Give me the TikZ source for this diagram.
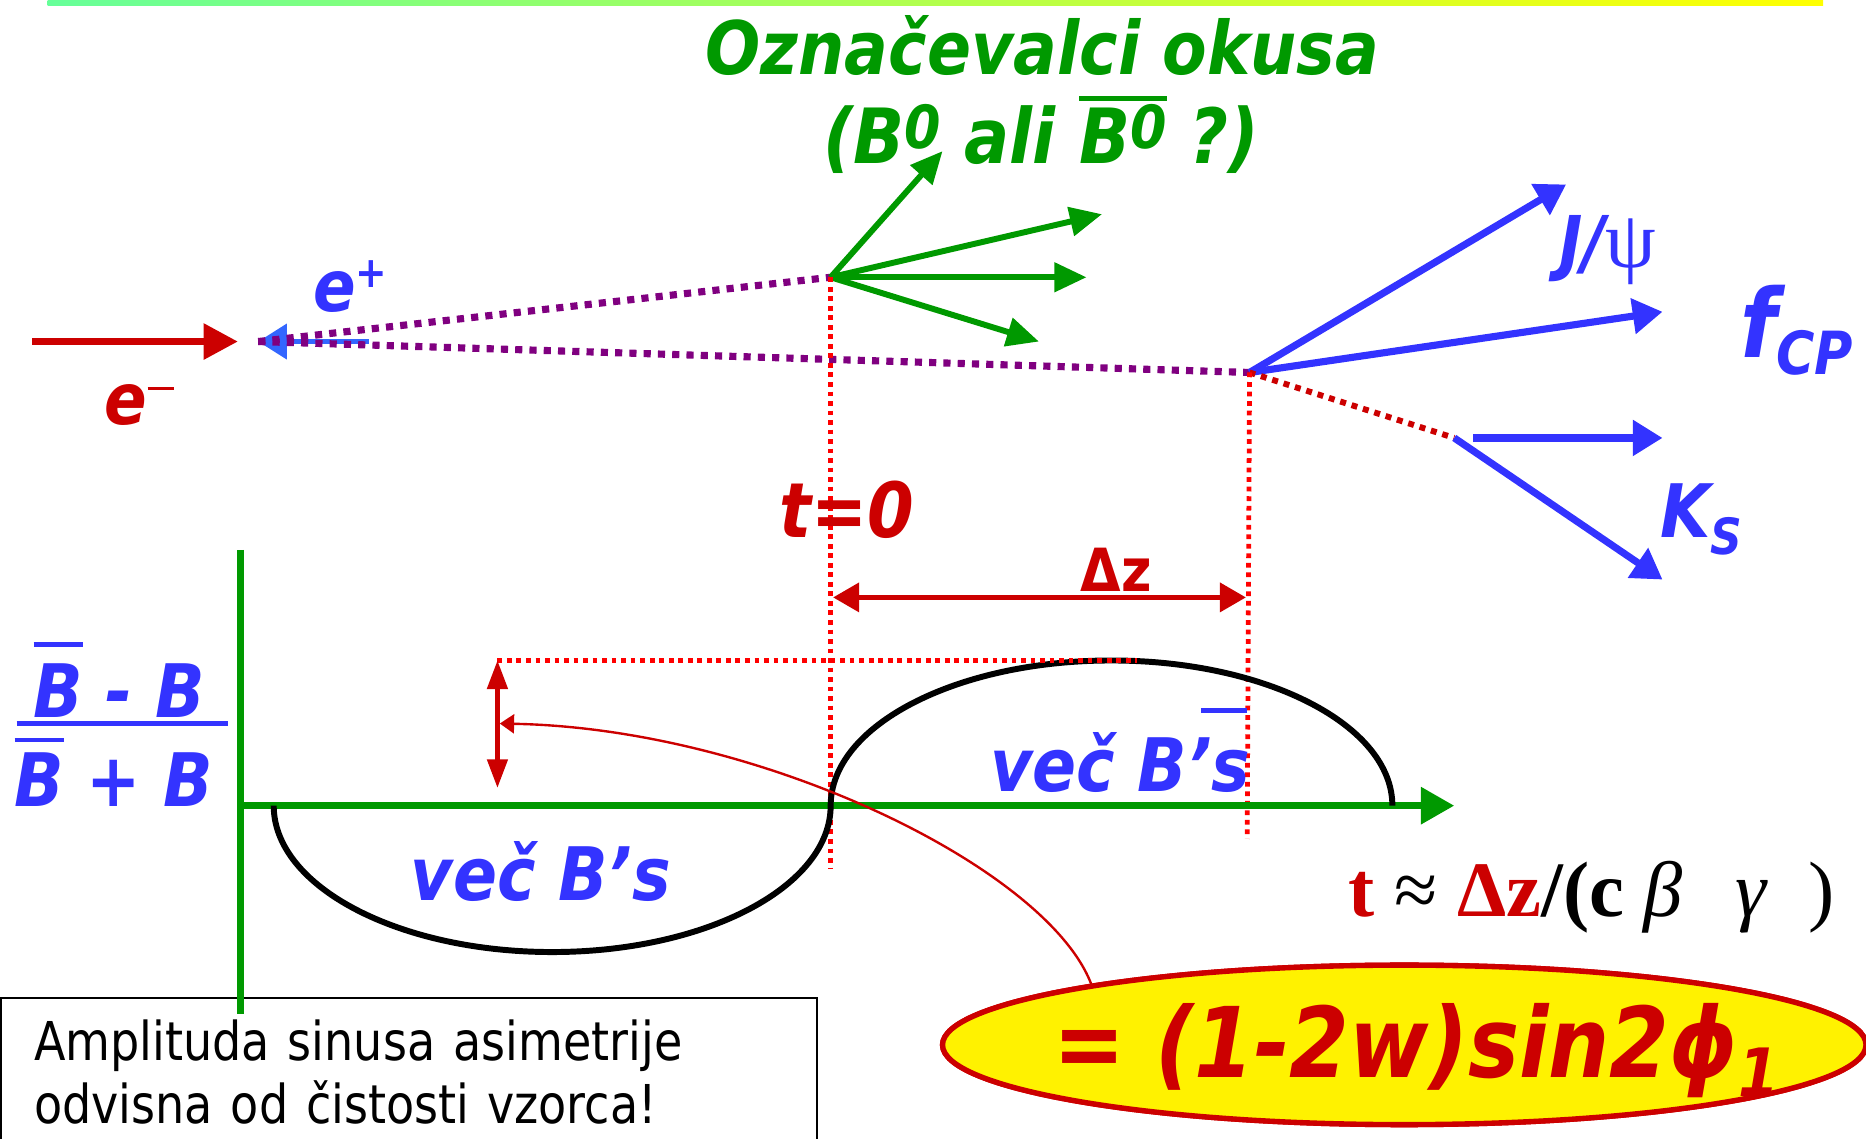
\documentclass[tikz,border=0pt]{standalone}
\usepackage{fontspec}
\usepackage{xcolor}
\usetikzlibrary{arrows.meta,positioning,shapes.geometric}

\newfontfamily\verd[FakeStretch=0.88,
  BoldFont={DejaVu Sans Bold},
  ItalicFont={DejaVu Sans Oblique},
  BoldItalicFont={DejaVu Sans Bold Oblique}]{DejaVu Sans}
\newfontfamily\verdn[FakeStretch=0.86]{DejaVu Sans}
\newfontfamily\tms{Liberation Serif}

\newcommand\fsz[1]{\fontsize{#1}{#1}\selectfont}
\newcommand\barred[2][6pt]{\vbox{\hrule height 4pt\kern#1\hbox{#2}}}

\definecolor{tgreen}{RGB}{0,153,0}
\definecolor{tblue}{RGB}{51,51,255}
\definecolor{tbluelight}{RGB}{51,102,255}
\definecolor{tred}{RGB}{204,0,0}
\definecolor{dred}{RGB}{255,0,0}
\definecolor{tpurple}{RGB}{128,0,128}
\definecolor{barleft}{RGB}{102,255,153}

\begin{document}
\begin{tikzpicture}[x=1pt, y=-1pt,
  lbl/.style={inner sep=0pt, font=\verd\bfseries\itshape\fsz{#1}},
  beam/.style={line width=6.5pt, -{Triangle[length=29pt,width=29pt]}},
  track/.style={tgreen, line width=5pt, -{Triangle[length=27pt,width=24pt]}},
  decay/.style={tblue, line width=6pt, -{Triangle[length=25pt,width=29pt]}},
  flight/.style={tpurple, line width=6pt, dash pattern=on 6pt off 6pt},
  guide/.style={dred, line width=4pt, dash pattern=on 4pt off 4pt},
  span/.style={tred, line width=4.5pt,
    {Triangle[length=22pt,width=24pt]}-{Triangle[length=22pt,width=24pt]}},
  axis/.style={tgreen, line width=6pt}
  ]
\useasboundingbox (0,0) rectangle (1568,957);

% colour bar on top
\shade[left color=barleft, right color=yellow] (40,0) rectangle (1532,5);

% title
\node[lbl=62, tgreen, anchor=base] (title) at (876,63) {Označevalci okusa};
\node[lbl=64, tgreen, anchor=base] (flavq) at (875,137)
  {(B\raisebox{12pt}{\fsz{50}0} ali
   \barred[3pt]{B\raisebox{12pt}{\fsz{50}0}} ?)};

% vertices
\coordinate (ip) at (217,287);
\coordinate (tag) at (698,233);
\coordinate (cp) at (1050,313);
\coordinate (ks) at (1222,368);

% beams
\coordinate (em0) at (27,287);
\coordinate (em1) at (200,287);
\coordinate (ep0) at (310,287);
\draw[beam, tred] (em0) -- (em1);
\draw[tbluelight, line width=4.5pt, -{Triangle[length=24pt,width=29pt]}] (ep0) -- (ip);
\node[lbl=60, tblue, anchor=base west] (eplab) at (263,262)
  {e\raisebox{20pt}{\fsz{36}+}};
\node[lbl=60, tred, anchor=base west] (emlab) at (88,357)
  {e\raisebox{29pt}{\rule{22pt}{3pt}}};

% flight paths of the two B mesons
\draw[flight] (ip) -- (tag);
\draw[flight] (ip) -- (cp);

% tag side
\coordinate (tg1) at (792,127);
\coordinate (tg2) at (926,180);
\coordinate (tg3) at (913,233);
\coordinate (tg4) at (873,287);
\foreach \e in {tg1,tg2,tg3,tg4}
  \draw[track] (tag) -- (\e);

% CP side
\coordinate (jpsi) at (1316,155);
\coordinate (fcpend) at (1397,262);
\coordinate (pi0) at (1238,368);
\coordinate (pi1) at (1397,368);
\coordinate (ksend) at (1397,487);
\draw[decay] (cp) -- (jpsi);
\draw[decay] (cp) -- (fcpend);
\draw[tred, line width=5pt, dash pattern=on 5pt off 5pt] (cp) -- (ks);
\draw[decay] (pi0) -- (pi1);
\draw[decay] (ks) -- (ksend);
\node[lbl=60, tblue, anchor=base west] (jpsilab) at (1310,225)
  {J/{\tms\mdseries\upshape\fsz{68}ψ}};
\node[lbl=80, tblue, anchor=base west] (fcplab) at (1462,300)
  {f\raisebox{-15pt}{\fsz{50}CP}};
\node[lbl=62, tblue, anchor=base west] (kslab) at (1395,452)
  {K\raisebox{-14pt}{\fsz{42}S}};

% decay times
\coordinate (tag0) at (698,730);
\coordinate (cp0) at (1048,705);
\draw[guide] (tag) -- (tag0);
\draw[guide] (cp) -- (cp0);
\node[lbl=64, tred, anchor=base west] (t0lab) at (655,452) {t=0};
\coordinate (dz0) at (700,502);
\coordinate (dz1) at (1047,502);
\draw[span] (dz0) -- (dz1);
\node[inner sep=0pt, tred, font=\verd\bfseries\fsz{50}, anchor=base west]
  (dzlab) at (908,497) {Δz};

% note box
\node[draw, line width=1.5pt, anchor=north west, minimum height=124pt,
  inner xsep=28pt, text width=630pt, align=left,
  font=\verdn\fontsize{45}{53}\selectfont] (note) at (0,838)
  {Amplituda sinusa asimetrije\\odvisna od čistosti vzorca!};

% asymmetry axes
\coordinate (orig) at (202,677);
\coordinate (ytop) at (202,462);
\coordinate (ybot) at (202,852);
\coordinate (xend) at (1222,677);
\draw[axis] (ytop) -- (ybot);
\draw[axis, -{Triangle[length=28pt,width=30pt]}] (orig) -- (xend);
\node[lbl=62, tblue, anchor=base west] (fnum) at (28,603)
  {\barred[14pt]{B} - B};
\node[lbl=62, tblue, anchor=base west] (fden) at (12,678)
  {\barred[9pt]{B} + B};
\draw[tblue, line width=4pt] (14,608) -- (192,608);

% asymmetry curve
\draw[line width=5pt] (230,677)
  arc[start angle=180, end angle=0, x radius=234, y radius=123]
  arc[start angle=180, end angle=360, x radius=236, y radius=122];
\node[lbl=62, tblue, anchor=base west] (morebar) at (345,757) {več B’s};
\node[lbl=62, tblue, anchor=base west] (moreb) at (832,665) {več B’s};
\draw[tblue, line width=4pt] (1009,597) -- (1048,597);

% amplitude
\coordinate (ampt) at (418,555);
\coordinate (ampb) at (418,662);
\coordinate (ampmid) at (420,608);
\draw[guide] (ampt) -- (955,555);
\draw[tred, line width=3.5pt,
  {Triangle[length=24pt,width=17pt]}-{Triangle[length=24pt,width=17pt]}]
  (ampt) -- (ampb);
\node[ellipse, draw=tred, line width=4.5pt, fill=yellow, minimum width=776pt,
  minimum height=134pt, inner sep=0pt] (pill) at (1180,878) {};
\draw[tred, line width=2pt, -{Triangle[length=12pt,width=16pt]}]
  (pill.169) .. controls (880,730) and (640,612) .. (ampmid);
\node[ellipse, draw=tred, line width=4.5pt, fill=yellow, minimum width=776pt,
  minimum height=134pt, inner sep=0pt] (pill) at (1180,878) {};
\node[lbl=82, tred, anchor=base west] (amplab) at (885,905)
  {= (1-2w)sin2ϕ\raisebox{-16pt}{\fsz{56}1}};

% time from distance
\node[inner sep=0pt, font=\tms\fsz{66}, anchor=base west] (tdz) at (1133,770)
  {\textcolor{tred}{\bfseries t} ≈ \textcolor{tred}{\bfseries Δz}\textbf{/(c}
   \textit{β}\hspace{44pt}\textit{γ}\hspace{34pt})};

\end{tikzpicture}
\end{document}
